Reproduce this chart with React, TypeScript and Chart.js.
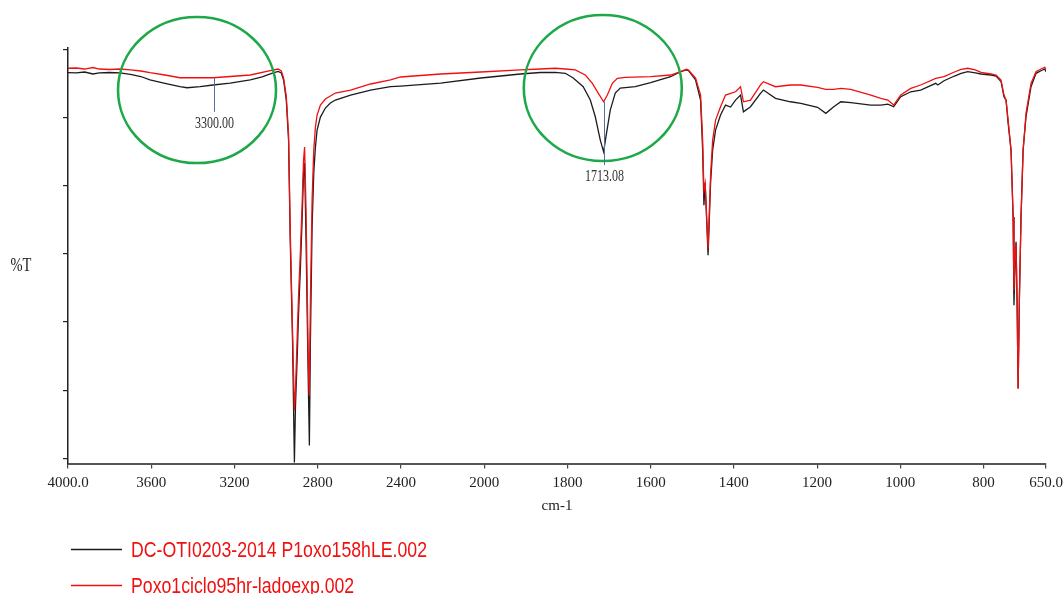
import React, { useEffect, useRef } from "react";
import { Chart, registerables, LinearScale } from "chart.js";

Chart.register(...registerables);

// ---- axis definition (wavenumber, cm-1), scale doubles below the break ----
const X_MAX = 4000;
const X_MIN = 650;
const X_BREAK = 2000;
const X_TICKS = [4000, 3600, 3200, 2800, 2400, 2000, 1800, 1600, 1400, 1200, 1000, 800, 650];
const X_TICK_LABELS = ["4000.0", "3600", "3200", "2800", "2400", "2000", "1800", "1600", "1400", "1200", "1000", "800", "650.0"];
const Y_TICKS = [0, 10, 20, 30, 40, 50, 60];
const Y_MIN = -0.78;
const Y_MAX = 60.32;

// ---- series ----
const SERIES_NAMES = ["DC-OTI0203-2014 P1oxo158hLE.002", "Poxo1ciclo95hr-ladoexp.002"];

const blackWn = [4000, 3960, 3920, 3880, 3850, 3800, 3751, 3700, 3650, 3606, 3534, 3462, 3428, 3365, 3303, 3221, 3124, 3067, 3028, 2990, 2975, 2964, 2951, 2940, 2932, 2921, 2912, 2907, 2899, 2892, 2883, 2875, 2868, 2863, 2856, 2851, 2846, 2840, 2835, 2827, 2819, 2811, 2803, 2787, 2763, 2739, 2715, 2642, 2546, 2450, 2402, 2209, 2016, 1913, 1865, 1829, 1805, 1786, 1762, 1745, 1733, 1721, 1713, 1706, 1697, 1685, 1673, 1637, 1600, 1552, 1528, 1514, 1509, 1492, 1480, 1475, 1472, 1469, 1462, 1456, 1451, 1444, 1432, 1420, 1408, 1396, 1384, 1377, 1360, 1336, 1329, 1300, 1264, 1239, 1199, 1179, 1160, 1143, 1119, 1071, 1047, 1030, 1016, 999, 975, 951, 930, 915, 910, 895, 870, 854, 838, 820, 806, 782, 770, 758, 751, 746, 741, 734, 729, 727, 724, 722, 719.5, 717, 714, 710, 705, 698, 686, 674, 662, 653, 650];
const blackT = [56.62, 56.58, 56.72, 56.43, 56.58, 56.65, 56.58, 56.36, 56.06, 55.55, 55.06, 54.56, 54.41, 54.56, 54.81, 55.10, 55.55, 55.99, 56.43, 56.80, 56.58, 55.55, 52.60, 46.72, 32.02, 17.31, -0.63, 7.46, 14.37, 21.28, 28.05, 34.96, 41.87, 43.34, 32.02, 22.16, 12.46, 1.86, 17.31, 33.93, 41.87, 45.69, 48.19, 50.10, 51.43, 52.16, 52.60, 53.34, 54.07, 54.56, 54.66, 55.10, 55.84, 56.43, 56.65, 56.68, 56.53, 55.84, 54.56, 52.60, 50.15, 46.72, 45.00, 47.75, 51.13, 53.63, 54.37, 54.56, 55.15, 56.03, 56.77, 57.02, 56.91, 55.55, 52.60, 45.25, 37.16, 40.40, 29.81, 40.40, 45.25, 48.19, 50.40, 51.87, 51.57, 52.60, 53.34, 50.88, 51.62, 53.59, 54.07, 52.85, 52.35, 52.12, 51.53, 50.65, 51.62, 52.35, 52.21, 51.87, 51.87, 52.00, 51.62, 53.09, 53.82, 54.07, 54.66, 55.06, 54.81, 55.44, 56.13, 56.53, 56.77, 56.58, 56.43, 56.28, 56.13, 55.30, 53.09, 52.60, 49.22, 45.25, 35.44, 22.46, 29.07, 31.77, 23.19, 10.25, 23.19, 35.44, 45.25, 50.15, 54.56, 56.53, 56.91, 57.16, 56.77];

const redWn = [4000, 3960, 3920, 3880, 3850, 3800, 3751, 3700, 3650, 3606, 3534, 3462, 3365, 3303, 3221, 3124, 3028, 2990, 2975, 2964, 2951, 2940, 2932, 2921, 2912, 2907, 2899, 2892, 2883, 2875, 2868, 2863, 2856, 2851, 2846, 2841, 2835, 2827, 2819, 2811, 2803, 2787, 2763, 2739, 2715, 2642, 2546, 2450, 2402, 2209, 2016, 1913, 1865, 1829, 1805, 1781, 1757, 1740, 1726, 1713, 1704, 1692, 1680, 1661, 1600, 1552, 1528, 1514, 1509, 1492, 1480, 1475, 1472, 1469, 1462, 1456, 1451, 1444, 1432, 1420, 1408, 1396, 1384, 1377, 1360, 1336, 1329, 1300, 1264, 1239, 1199, 1179, 1160, 1143, 1119, 1071, 1047, 1030, 1016, 999, 975, 951, 915, 895, 870, 854, 838, 820, 806, 782, 770, 758, 751, 746, 741, 734, 729, 727, 724, 722, 719.5, 717, 714, 710, 705, 698, 686, 674, 662, 653, 650];
const redT = [57.27, 57.31, 57.16, 57.38, 57.16, 57.09, 57.16, 57.02, 56.87, 56.62, 56.28, 55.88, 55.88, 55.88, 56.06, 56.28, 56.91, 57.16, 56.87, 55.84, 53.19, 47.46, 33.49, 18.78, 7.01, 9.95, 17.31, 23.93, 30.54, 37.16, 43.78, 45.69, 36.43, 26.13, 15.84, 9.22, 23.19, 37.90, 45.25, 48.63, 50.40, 51.87, 52.75, 53.19, 53.63, 54.07, 54.96, 55.55, 55.99, 56.43, 56.72, 57.02, 57.16, 57.27, 57.16, 57.02, 56.28, 55.06, 53.63, 52.35, 53.34, 55.06, 55.79, 55.94, 56.03, 56.28, 56.77, 57.12, 57.02, 55.84, 53.34, 46.72, 39.37, 40.40, 30.84, 41.57, 46.72, 49.66, 51.62, 53.34, 53.59, 53.82, 54.56, 52.35, 52.60, 54.81, 55.30, 54.56, 54.81, 54.81, 54.47, 54.18, 54.18, 54.32, 54.18, 53.34, 52.85, 52.60, 51.87, 53.34, 54.32, 54.81, 55.79, 56.03, 56.72, 57.12, 57.27, 57.02, 56.68, 56.43, 56.28, 55.55, 53.34, 52.60, 49.66, 45.25, 35.44, 24.66, 30.54, 31.03, 23.19, 10.25, 23.19, 35.44, 45.25, 50.69, 55.06, 56.77, 57.16, 57.41, 57.12];

// ---- annotations ----
const PEAK_WN = [3300, 1713.08];
const PEAK_LABELS = ["3300.00", "1713.08"];
const PEAK_LINE_TOP = [55.88, 52.35];
const PEAK_LINE_BOTTOM = [50.88, 43.04];
const CIRCLE_WN = [3380, 1715];
const CIRCLE_T = [54.07, 54.37];

const BLACK = "#1c1c1c";
const RED = "#f01010";
const GREEN = "#1ea84a";
const MARK_BLUE = "#4f6fa8";

function toU(v: number) {
  return v >= X_BREAK ? X_MAX - v : X_MAX - X_BREAK + 2 * (X_BREAK - v);
}
function fromU(u: number) {
  const hi = X_MAX - X_BREAK;
  return u <= hi ? X_MAX - u : X_BREAK - (u - hi) / 2;
}

class SplitScale extends LinearScale {
  static id = "split";
  static defaults = {};
  getPixelForValue(value: number) {
    return this.left + (toU(value) / toU(X_MIN)) * this.width;
  }
  getValueForPixel(pixel: number) {
    return fromU(((pixel - this.left) / this.width) * toU(X_MIN));
  }
}
Chart.register(SplitScale as any);

function drawText(ctx: CanvasRenderingContext2D, text: string, x: number, y: number, font: string, color: string, align: CanvasTextAlign, sy: number, baseline: CanvasTextBaseline = "middle") {
  ctx.save();
  ctx.translate(x, y);
  ctx.scale(1, sy);
  ctx.font = font;
  ctx.fillStyle = color;
  ctx.textAlign = align;
  ctx.textBaseline = baseline;
  ctx.fillText(text, 0, 0);
  ctx.restore();
}

const decorPlugin = {
  id: "decor",
  afterDraw(chart: any) {
    const ctx: CanvasRenderingContext2D = chart.ctx;
    const xs = chart.scales.x;
    const ys = chart.scales.y;
    ctx.save();
    // circles
    ctx.strokeStyle = GREEN;
    ctx.lineWidth = 2.6;
    for (let i = 0; i < CIRCLE_WN.length; i++) {
      ctx.beginPath();
      ctx.ellipse(xs.getPixelForValue(CIRCLE_WN[i]), ys.getPixelForValue(CIRCLE_T[i]), 79, 73, 0, 0, Math.PI * 2);
      ctx.stroke();
    }
    // peak markers
    for (let i = 0; i < PEAK_WN.length; i++) {
      const x = Math.round(xs.getPixelForValue(PEAK_WN[i])) + 0.5;
      const y1 = ys.getPixelForValue(PEAK_LINE_TOP[i]);
      const y2 = ys.getPixelForValue(PEAK_LINE_BOTTOM[i]);
      ctx.strokeStyle = MARK_BLUE;
      ctx.lineWidth = 1;
      ctx.beginPath();
      ctx.moveTo(x, y1);
      ctx.lineTo(x, y2);
      ctx.stroke();
      drawText(ctx, PEAK_LABELS[i], x, y2 + 12, '12px "Liberation Serif", serif', "#333", "center", 1.35);
    }
    // y title
    drawText(ctx, "%T", 21, 266, '14.5px "Liberation Serif", serif', "#222", "center", 1.3);
    // legend
    const colors = [BLACK, RED];
    const lineY = [549.5, 585.5];
    for (let i = 0; i < SERIES_NAMES.length; i++) {
      ctx.strokeStyle = colors[i];
      ctx.lineWidth = 1.3;
      ctx.beginPath();
      ctx.moveTo(71, lineY[i]);
      ctx.lineTo(122, lineY[i]);
      ctx.stroke();
      drawText(ctx, SERIES_NAMES[i], 131, lineY[i] + 7.3, '17.7px "Liberation Sans", Arial, sans-serif', RED, "left", 1.26, "alphabetic");
    }
    ctx.restore();
  },
};

export default function App() {
  const ref = useRef<HTMLCanvasElement | null>(null);
  useEffect(() => {
    if (!ref.current) return;
    const chart = new Chart(ref.current, {
      type: "line",
      data: {
        datasets: [
          {
            label: SERIES_NAMES[0],
            data: blackWn.map((x, i) => ({ x, y: blackT[i] })),
            borderColor: BLACK,
            borderWidth: 1.3,
            pointRadius: 0,
            tension: 0,
            order: 1,
          },
          {
            label: SERIES_NAMES[1],
            data: redWn.map((x, i) => ({ x, y: redT[i] })),
            borderColor: RED,
            borderWidth: 1.3,
            pointRadius: 0,
            tension: 0,
            order: 0,
          },
        ],
      },
      options: {
        animation: false,
        responsive: false,
        devicePixelRatio: 1,
        layout: { padding: { top: 47.5, right: 17, bottom: 75, left: 0 } },
        plugins: { legend: { display: false }, tooltip: { enabled: false } },
        scales: {
          x: {
            type: "split" as any,
            min: X_MIN,
            max: X_MAX,
            afterBuildTicks: (s: any) => {
              s.ticks = X_TICKS.map((value) => ({ value }));
            },
            afterFit: (s: any) => {
              s.height = 55.5;
              s.paddingLeft = 0;
              s.paddingRight = 0;
            },
            ticks: {
              autoSkip: false,
              maxRotation: 0,
              minRotation: 0,
              padding: 6,
              color: "#222",
              font: { family: '"Liberation Serif", serif', size: 15 },
              callback: (_v: any, i: number) => X_TICK_LABELS[i],
            },
            grid: { drawOnChartArea: false, drawTicks: true, tickLength: 5, color: "#444", lineWidth: 1.2 },
            border: { display: true, color: "#555", width: 2 },
            title: {
              display: true,
              text: "cm-1",
              color: "#222",
              font: { family: '"Liberation Serif", serif', size: 15 },
              padding: { top: 0, bottom: 4 },
            },
          },
          y: {
            type: "linear",
            min: Y_MIN,
            max: Y_MAX,
            afterBuildTicks: (s: any) => {
              s.ticks = Y_TICKS.map((value) => ({ value }));
            },
            afterFit: (s: any) => {
              s.width = 68;
            },
            ticks: { display: false },
            grid: { drawOnChartArea: false, drawTicks: true, tickLength: 5, color: "#222", lineWidth: 1.2 },
            border: { display: true, color: "#222", width: 1.5 },
          },
        },
      },
      plugins: [decorPlugin],
    });
    return () => chart.destroy();
  }, []);
  return (
    <div style={{ position: "fixed", left: 0, top: 0, width: 1063, height: 594, background: "#fff" }}>
      <canvas ref={ref} width={1063} height={594} style={{ display: "block", width: 1063, height: 594 }} />
    </div>
  );
}
